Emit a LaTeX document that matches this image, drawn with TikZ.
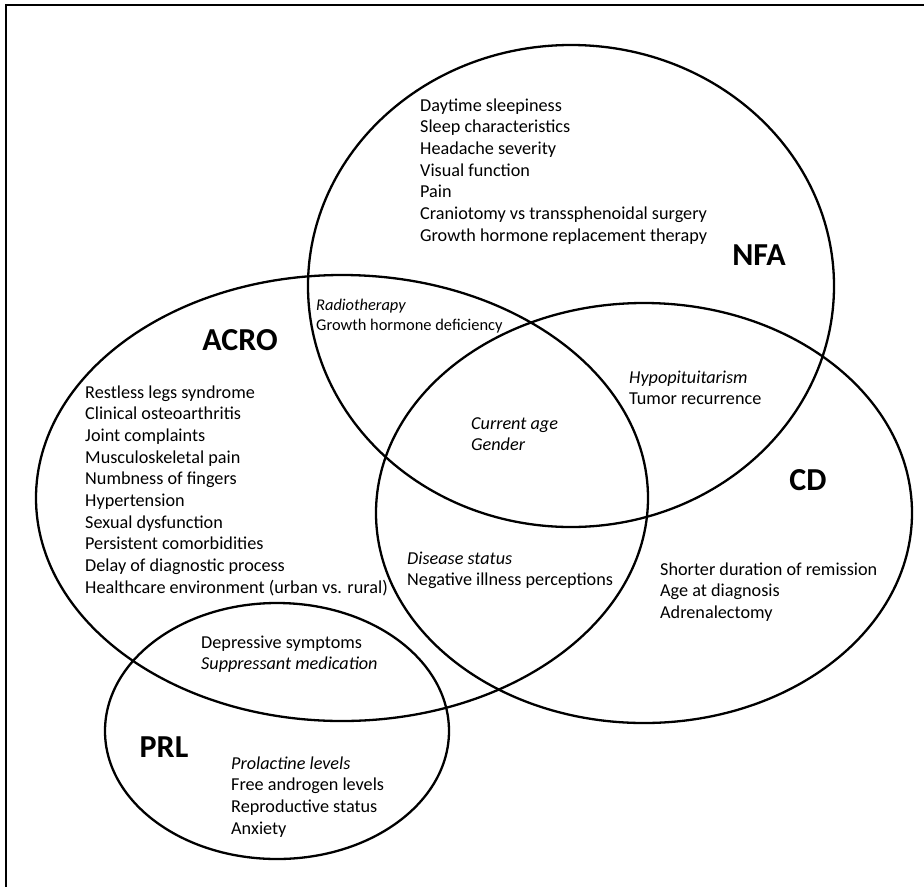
\documentclass[tikz,border=0pt]{standalone}
\usepackage{fontspec}
\setmainfont{Carlito}
\newcommand{\itemlist}[1]{\begin{tabular}[t]{@{}l@{}}#1\end{tabular}}
\begin{document}
\begin{tikzpicture}[x=1pt,y=-1pt,
  venn/.style={line width=2.3pt},
  frameline/.style={line width=2pt},
  setlabel/.style={font=\fontsize{32}{36}\selectfont\bfseries, inner sep=0pt, anchor=center},
  itemtext/.style={font=\fontsize{18.2}{21.7}\selectfont, inner sep=0pt, anchor=base west},
  smallitemtext/.style={itemtext, font=\fontsize{16.4}{20}\selectfont}]
\useasboundingbox (0,0) rectangle (924,887);

% outer frame (top and left edges)
\coordinate (fTL) at (6,5);
\coordinate (fTR) at (924,5);
\coordinate (fBL) at (6,887);
\draw[frameline] (fTR) -- (fTL) -- (fBL);

% the four sets
\coordinate (nfaC)  at (571,286);
\coordinate (acroC) at (342,498);
\coordinate (cdC)   at (644,513);
\coordinate (prlC)  at (277,731);
\draw[venn] (nfaC)  ellipse [x radius=263pt, y radius=241pt];
\draw[venn] (acroC) ellipse [x radius=306pt, y radius=223pt];
\draw[venn] (cdC)   ellipse [x radius=268pt, y radius=210pt];
\draw[venn] (prlC)  ellipse [x radius=172pt, y radius=128pt];

% set labels
\node[setlabel] (lNFA)  at (759,255) {NFA};
\node[setlabel] (lACRO) at (240,340) {ACRO};
\node[setlabel] (lCD)   at (808,480) {CD};
\node[setlabel] (lPRL)  at (164,747) {PRL};

% NFA only
\node[itemtext] (tNFA) at (420,111) {\itemlist{Daytime sleepiness\\Sleep characteristics\\Headache severity\\Visual function\\Pain\\Craniotomy vs transsphenoidal surgery\\Growth hormone replacement therapy}};

% ACRO only
\node[itemtext] (tACRO) at (85,398) {\itemlist{Restless legs syndrome\\Clinical osteoarthritis\\Joint complaints\\Musculoskeletal pain\\Numbness of fingers\\Hypertension\\Sexual dysfunction\\Persistent comorbidities\\Delay of diagnostic process\\Healthcare environment (urban vs. rural)}};

% NFA and ACRO
\node[smallitemtext] (tNA) at (316,310) {\itemlist{\textit{Radiotherapy}\\Growth hormone deficiency}};

% NFA and CD
\node[itemtext] (tNC) at (629,383) {\itemlist{\textit{Hypopituitarism}\\Tumor recurrence}};

% NFA, ACRO and CD
\node[itemtext] (tAll) at (471,429) {\itemlist{\textit{Current age}\\\textit{Gender}}};

% ACRO and CD
\node[itemtext] (tAC) at (407,564) {\itemlist{\textit{Disease status}\\Negative illness perceptions}};

% CD only
\node[itemtext] (tCD) at (660,575) {\itemlist{Shorter duration of remission\\Age at diagnosis\\Adrenalectomy}};

% ACRO and PRL
\node[itemtext] (tAP) at (201,648) {\itemlist{Depressive symptoms\\\textit{Suppressant medication}}};

% PRL only
\node[itemtext] (tPRL) at (231,769) {\itemlist{\textit{Prolactine levels}\\Free androgen levels\\Reproductive status\\Anxiety}};
\end{tikzpicture}
\end{document}
